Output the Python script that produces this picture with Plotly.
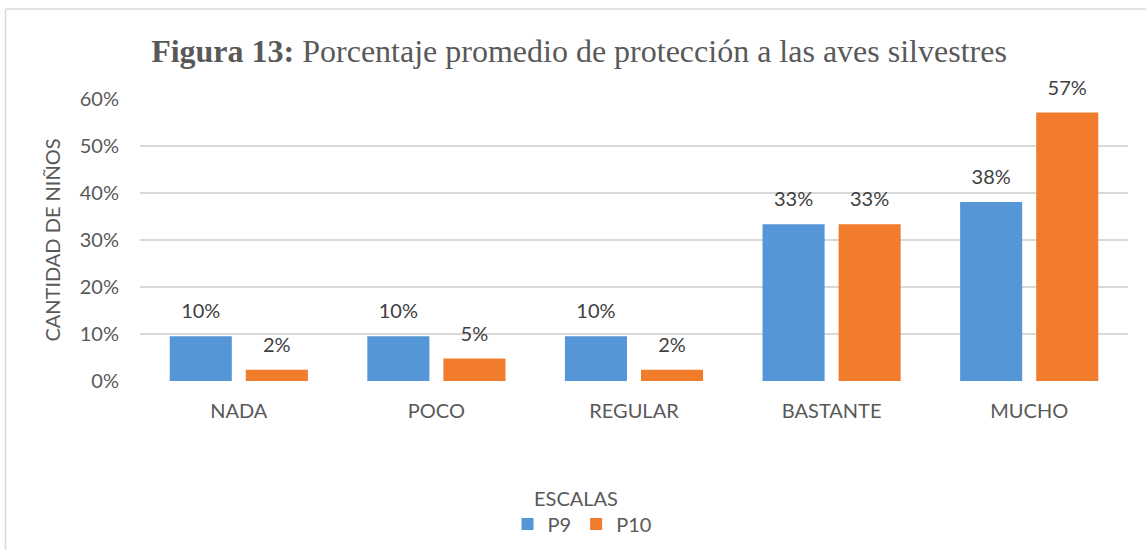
import plotly.graph_objects as go

categories = ["NADA", "POCO", "REGULAR", "BASTANTE", "MUCHO"]
p9_values = [4/42, 4/42, 4/42, 14/42, 16/42]
p10_values = [1/42, 2/42, 1/42, 14/42, 24/42]
series_names = ["P9", "P10"]
tick_values = [0, 0.1, 0.2, 0.3, 0.4, 0.5, 0.6]

BLUE = "#5596D6"
ORANGE = "#F07C2C"
LABEL_FONT = dict(family="Lato", size=20, color="#404040")
AXIS_FONT = dict(family="Lato", size=20, color="#595959")

fig = go.Figure()
for name, vals, col, grp in [(series_names[0], p9_values, BLUE, "a"),
                             (series_names[1], p10_values, ORANGE, "b")]:
    fig.add_trace(go.Bar(
        x=categories, y=vals, name=name, offsetgroup=grp,
        marker=dict(color=col, line=dict(width=0)),
        hovertemplate="%{x}: %{y:.0%}<extra>" + name + "</extra>",
    ))
for name, vals, grp in [(series_names[0], p9_values, "a"),
                        (series_names[1], p10_values, "b")]:
    fig.add_trace(go.Scatter(
        x=categories, y=vals, mode="markers+text", offsetgroup=grp,
        text=[f"{v:.0%}" for v in vals], textposition="top center",
        textfont=LABEL_FONT, marker=dict(size=19, opacity=0),
        showlegend=False, hoverinfo="skip", cliponaxis=False,
    ))

px_x = lambda px: (px - 140) / 988
px_y = lambda py: (381 - py) / 282

fig.update_layout(
    width=1146, height=550,
    margin=dict(l=140, r=18, t=99, b=169, autoexpand=False),
    paper_bgcolor="white", plot_bgcolor="white",
    barmode="group", bargap=0.23, bargroupgap=0.184,
    scattermode="group",
    title=dict(
        text="<b>Figura 13:</b> Porcentaje promedio de protección a las aves silvestres",
        font=dict(family="Liberation Serif", size=32, color="#595959"),
        x=579/1146, xanchor="center", y=1 - 51/550, yanchor="middle",
    ),
    xaxis=dict(
        showgrid=False, showline=False, zeroline=False,
        tickfont=AXIS_FONT, ticks="", ticklabelstandoff=16,
    ),
    yaxis=dict(
        range=[0, 0.6], tickvals=tick_values, tickformat=".0%",
        showgrid=True, gridcolor="#d9d9d9", gridwidth=1.5,
        zeroline=False, showline=False, ticks="",
        tickfont=AXIS_FONT, ticklabelstandoff=20,
        title=dict(text="CANTIDAD DE NIÑOS", font=AXIS_FONT, standoff=13),
    ),
    legend=dict(
        orientation="h", x=px_x(582), xanchor="center",
        y=px_y(524), yanchor="middle",
        font=AXIS_FONT, bgcolor="rgba(0,0,0,0)", itemwidth=30,
    ),
    annotations=[dict(
        text="ESCALAS", xref="paper", yref="paper",
        x=px_x(576), y=px_y(498), xanchor="center", yanchor="middle",
        showarrow=False, font=AXIS_FONT,
    )],
    shapes=[
        dict(type="line", xref="paper", yref="paper",
             x0=px_x(5.5), x1=px_x(1150), y0=px_y(9), y1=px_y(9),
             line=dict(color="#d9d9d9", width=1.5)),
        dict(type="line", xref="paper", yref="paper",
             x0=px_x(5.5), x1=px_x(5.5), y0=px_y(9), y1=px_y(560),
             line=dict(color="#d9d9d9", width=1.5)),
    ],
)

fig.write_html(
    "out.html",
    config={"displayModeBar": False},
    post_script="document.body.style.margin='0';document.body.style.padding='0';"
                "document.documentElement.style.overflow='hidden';",
)
